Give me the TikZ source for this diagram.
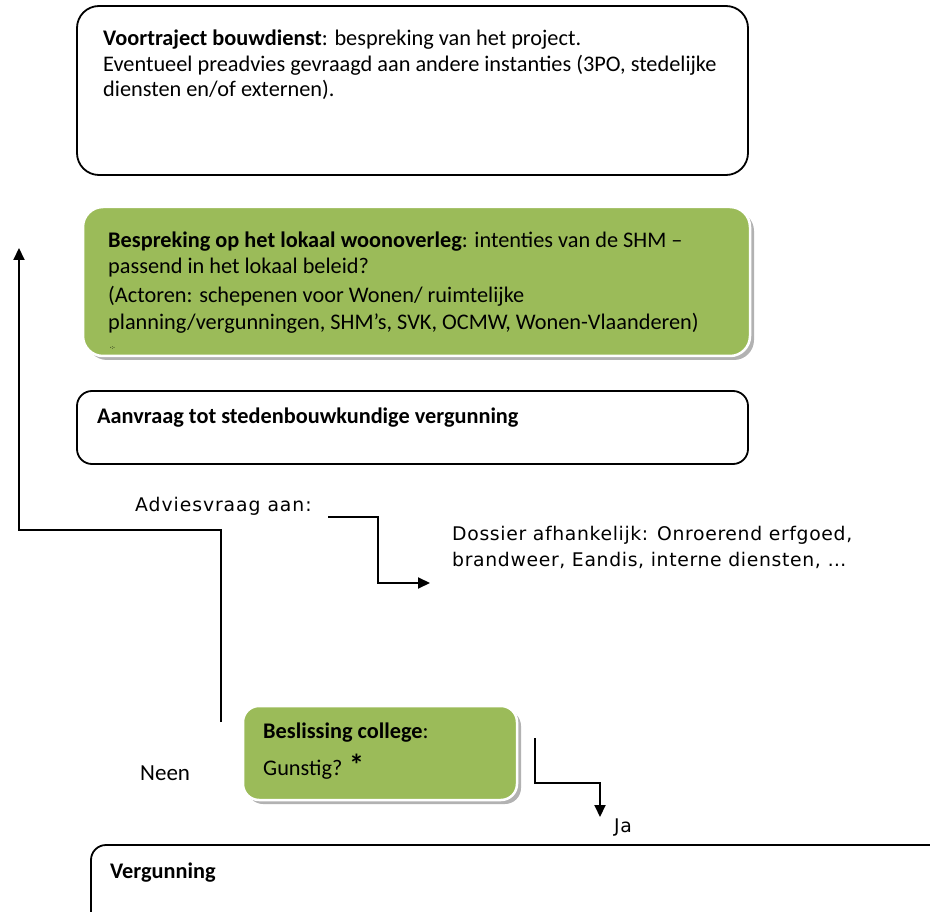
\documentclass[tikz,border=0pt]{standalone}
\usepackage{fontspec}
\setmainfont{Carlito}
\newfontfamily\verd{DejaVu Sans}
\newfontfamily\verdsp[LetterSpace=5]{DejaVu Sans}
\newfontfamily\verdsq[LetterSpace=3.5]{DejaVu Sans}
\usetikzlibrary{arrows.meta}
\definecolor{olive}{HTML}{9BBB59}
\begin{document}
\begin{tikzpicture}[x=1pt,y=-1pt,
  box/.style={draw=black,line width=1.8pt,rounded corners=22pt,fill=white},
  greenbox/.style={fill=olive,draw=white,line width=2.5pt,rounded corners=20pt},
  shadow/.style={fill=black!30,rounded corners=20pt},
  txt/.style={anchor=west,inner sep=0pt,font=\fontsize{22.3}{25}\selectfont},
  vtxt/.style={anchor=west,inner sep=0pt,font=\verdsq\fontsize{18.8}{25}\selectfont},
  conn/.style={line width=2pt,-{Triangle[length=12pt,width=11pt]}}]
\useasboundingbox (0,0) rectangle (930,912);
% box 1
\draw[box] (77,6) rectangle (748,175);
\node[txt] (t1a) at (103,40) {\textbf{Voortraject bouwdienst}: bespreking van het project.};
\node[txt] (t1b) at (103,65) {Eventueel preadvies gevraagd aan andere instanties (3PO, stedelijke};
\node[txt] (t1c) at (103,90) {diensten en/of externen).};
% box 2 green
\fill[shadow] (87,211) rectangle (754,360);
\draw[greenbox] (83,207) rectangle (750,356);
\node[txt] (t2a) at (108,242) {\textbf{Bespreking op het lokaal woonoverleg}: intenties van de SHM –};
\node[txt] (t2b) at (108,268) {passend in het lokaal beleid?};
\node[txt] (t2c) at (108,296) {(Actoren: schepenen voor Wonen/ ruimtelijke};
\node[txt] (t2d) at (108,323) {planning/vergunningen, SHM’s, SVK, OCMW, Wonen-Vlaanderen)};
\node[anchor=west,inner sep=0pt,font=\fontsize{6}{6}\selectfont] (t2e) at (110,348) {·:·};
% box 3
\draw[box,rounded corners=15pt] (77,391) rectangle (748,464);
\node[txt] (t3) at (97,418) {\textbf{Aanvraag tot stedenbouwkundige vergunning}};
% advies
\node[anchor=west,inner sep=0pt,font=\verdsp\fontsize{18.8}{25}\selectfont] (adv) at (135,506) {Adviesvraag aan:};
\node[vtxt] (dos1) at (452,535) {Dossier afhankelijk: Onroerend erfgoed,};
\node[vtxt] (dos2) at (452,560) {brandweer, Eandis, interne diensten, …};
\coordinate (a1) at (328,517);
\coordinate (a2) at (430,583);
\draw[conn] (a1) -- (378,517) -- (378,583) -- (a2);
% beslissing
\fill[shadow,rounded corners=16pt] (247,710) rectangle (521,804);
\draw[greenbox,rounded corners=16pt] (243,706) rectangle (517,800);
\node[txt] (t4a) at (263,733) {\textbf{Beslissing college}:};
\node[txt] (t4b) at (263,767) {Gunstig? \raisebox{0pt}{\fontsize{30}{30}\selectfont\textbf{*}}};
\node[txt,font=\fontsize{23}{25}\selectfont] (neen) at (140,773) {Neen};
% feedback arrow
\coordinate (f1) at (221,722);
\coordinate (f2) at (19,248);
\draw[conn] (f1) -- (221,530) -- (19,530) -- (f2);
% ja arrow
\coordinate (j1) at (535,738);
\coordinate (j2) at (600,817);
\draw[conn] (j1) -- (535,783) -- (600,783) -- (j2);
\node[vtxt] (ja) at (614,828) {Ja};
% vergunning
\draw[box,rounded corners=15pt] (91,845) rectangle (960,940);
\node[txt] (t5) at (110,873) {\textbf{Vergunning}};
\end{tikzpicture}
\end{document}
